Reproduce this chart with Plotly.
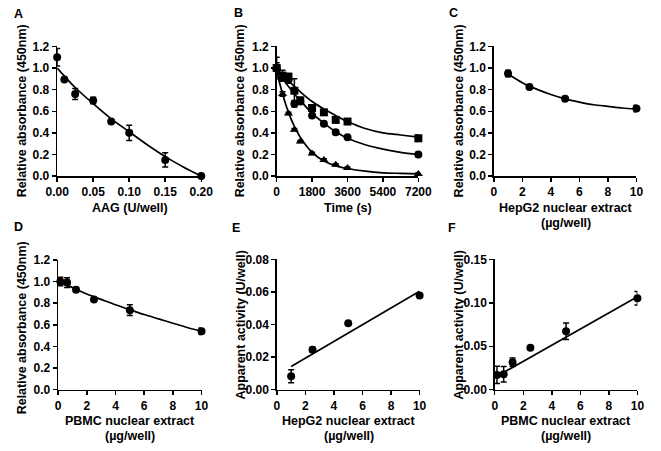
import plotly.graph_objects as go

W, H = 661, 451
FONT = "Liberation Sans, Arial, sans-serif"

# ---------------- data ----------------
# Panel A
a_x = [0, 0.01, 0.025, 0.05, 0.075, 0.1, 0.15, 0.2]
a_y = [1.10, 0.895, 0.76, 0.70, 0.505, 0.40, 0.15, 0.0]
a_err = [0.08, 0.015, 0.05, 0.03, 0.01, 0.07, 0.065, 0.0]
a_fit_x = [0, 0.025, 0.05, 0.075, 0.1, 0.125, 0.15, 0.175, 0.2]
a_fit_y = [1.0, 0.82, 0.67, 0.53, 0.41, 0.29, 0.18, 0.085, 0.0]

# Panel B
b_t = [0, 300, 600, 900, 1200, 1800, 2400, 3000, 3600, 7200]
b_sq = [1.0, 0.93, 0.92, 0.79, 0.70, 0.63, 0.59, 0.52, 0.505, 0.35]
b_sq_err = [0.10, 0.05, 0.03, 0.11, 0.03, 0.03, 0.02, 0.02, 0.02, 0.03]
b_ci = [1.0, 0.91, 0.89, 0.67, 0.69, 0.56, 0.485, 0.405, 0.36, 0.20]
b_ci_err = [0.05, 0.03, 0.03, 0.03, 0.02, 0.02, 0.02, 0.02, 0.01, 0.02]
b_tr = [1.0, 0.76, 0.58, 0.43, 0.32, 0.21, 0.15, 0.105, 0.075, 0.02]
b_tr_err = [0.03, 0.02, 0.01, 0.01, 0.01, 0.01, 0.01, 0.01, 0.01, 0.01]
b_fit_t = [0, 300, 600, 900, 1200, 1800, 2400, 3000, 3600, 4500, 5400, 6300, 7200]
b_fit_sq = [0.97, 0.93, 0.88, 0.83, 0.78, 0.69, 0.62, 0.56, 0.505, 0.44, 0.40, 0.38, 0.36]
b_fit_ci = [0.98, 0.90, 0.83, 0.76, 0.70, 0.58, 0.49, 0.41, 0.35, 0.29, 0.25, 0.22, 0.20]
b_fit_tr = [0.97, 0.76, 0.59, 0.46, 0.36, 0.22, 0.14, 0.095, 0.07, 0.045, 0.03, 0.025, 0.02]

# Panel C
c_x = [1, 2.5, 5, 10]
c_y = [0.95, 0.825, 0.715, 0.625]
c_err = [0.03, 0.01, 0.01, 0.03]
c_fit_x = [1, 2, 3, 4, 5, 6, 7, 8, 9, 10]
c_fit_y = [0.945, 0.865, 0.805, 0.755, 0.715, 0.685, 0.66, 0.645, 0.63, 0.62]

# Panel D
d_x = [0.156, 0.625, 1.25, 2.5, 5, 10]
d_y = [1.0, 0.99, 0.925, 0.835, 0.735, 0.54]
d_err = [0.04, 0.045, 0.02, 0.01, 0.05, 0.03]
d_fit_x = [0.156, 1, 2, 3, 4, 5, 6, 7, 8, 9, 10]
d_fit_y = [0.99, 0.945, 0.885, 0.835, 0.785, 0.74, 0.695, 0.655, 0.615, 0.575, 0.54]

# Panel E
e_x = [1, 2.5, 5, 10]
e_y = [0.0083, 0.0246, 0.0408, 0.0578]
e_err = [0.004, 0.0015, 0.0005, 0.0005]
e_fit_x = [1, 10]
e_fit_y = [0.0143, 0.0604]

# Panel F
f_x = [0.156, 0.625, 1.25, 2.5, 5, 10]
f_y = [0.0171, 0.0178, 0.0316, 0.0483, 0.0672, 0.1054]
f_err = [0.0098, 0.009, 0.005, 0.001, 0.0095, 0.0078]
f_fit_x = [0.156, 10]
f_fit_y = [0.0156, 0.1069]

# ---------------- helpers ----------------
def px(x):
    return x / W

def py(y):
    return 1 - y / H

fig = go.Figure()

def pts(ax, x, y, err, symbol="circle"):
    fig.add_trace(go.Scatter(
        x=x, y=y, mode="markers", xaxis="x" + ax, yaxis="y" + ax,
        marker=dict(symbol=symbol, size=8, color="black"),
        error_y=dict(type="data", array=err, color="black", thickness=1.5, width=3),
        cliponaxis=False, showlegend=False, hoverinfo="skip"))

def fit(ax, x, y):
    fig.add_trace(go.Scatter(
        x=x, y=y, mode="lines", xaxis="x" + ax, yaxis="y" + ax,
        line=dict(color="black", width=1.7, shape="spline", smoothing=0.8),
        cliponaxis=False, showlegend=False, hoverinfo="skip"))

fit("", a_fit_x, a_fit_y); pts("", a_x, a_y, a_err)
fit("2", b_fit_t, b_fit_sq); fit("2", b_fit_t, b_fit_ci); fit("2", b_fit_t, b_fit_tr)
pts("2", b_t, b_sq, b_sq_err, "square")
pts("2", b_t, b_ci, b_ci_err, "circle")
pts("2", b_t, b_tr, b_tr_err, "triangle-up")
fit("3", c_fit_x, c_fit_y); pts("3", c_x, c_y, c_err)
fit("4", d_fit_x, d_fit_y); pts("4", d_x, d_y, d_err)
fit("5", e_fit_x, e_fit_y); pts("5", e_x, e_y, e_err)
fit("6", f_fit_x, f_fit_y); pts("6", f_x, f_y, f_err)

tickfont = dict(family=FONT, size=12, color="black", weight="bold")
common = dict(showline=True, linecolor="black", linewidth=1.5, ticks="outside",
              ticklen=4, tickwidth=1.5, tickcolor="black", showgrid=False,
              zeroline=False, tickfont=tickfont, fixedrange=True)

# panel pixel boxes: (x0, x1, ytop, ybottom)
boxes = {
    "": (47, 197, 40.7, 174.5),
    "2": (275.5, 423, 40.7, 174.5),
    "3": (501.5, 650, 40.7, 174.5),
    "4": (48, 197.3, 261, 395),
    "5": (275.7, 424.3, 260.5, 395),
    "6": (502.5, 651, 260.5, 395),
}
xspec = {
    "": dict(range=[0, 0.2], tickvals=[0, 0.05, 0.1, 0.15, 0.2], tickformat=".2f"),
    "2": dict(range=[0, 7200], tickvals=[0, 1800, 3600, 5400, 7200], tickformat="d"),
    "3": dict(range=[0, 10], tickvals=[0, 2, 4, 6, 8, 10]),
    "4": dict(range=[0, 10], tickvals=[0, 2, 4, 6, 8, 10]),
    "5": dict(range=[0, 10], tickvals=[0, 2, 4, 6, 8, 10]),
    "6": dict(range=[0, 10], tickvals=[0, 2, 4, 6, 8, 10]),
}
yspec = {
    "": dict(range=[0, 1.2], tickvals=[0, 0.2, 0.4, 0.6, 0.8, 1.0, 1.2], tickformat=".1f"),
    "2": dict(range=[0, 1.2], tickvals=[0, 0.2, 0.4, 0.6, 0.8, 1.0, 1.2], tickformat=".1f"),
    "3": dict(range=[0, 1.2], tickvals=[0, 0.2, 0.4, 0.6, 0.8, 1.0, 1.2], tickformat=".1f"),
    "4": dict(range=[0, 1.2], tickvals=[0, 0.2, 0.4, 0.6, 0.8, 1.0, 1.2], tickformat=".1f"),
    "5": dict(range=[0, 0.08], tickvals=[0, 0.02, 0.04, 0.06, 0.08], tickformat=".2f"),
    "6": dict(range=[0, 0.15], tickvals=[0, 0.05, 0.10, 0.15], tickformat=".2f"),
}

layout = dict(width=W, height=H, margin=dict(l=0, r=0, t=0, b=0),
              paper_bgcolor="white", plot_bgcolor="white", showlegend=False,
              hovermode=False)
for k, (x0, x1, yt, yb) in boxes.items():
    layout["xaxis" + k] = dict(domain=[px(x0), px(x1)], anchor="y" + k, **xspec[k], **common)
    layout["yaxis" + k] = dict(domain=[py(yb), py(yt)], anchor="x" + k, **yspec[k], **common)
fig.update_layout(**layout)

def text(x, y, s, size=12.5, angle=0):
    fig.add_annotation(x=px(x), y=py(y), xref="paper", yref="paper", text=s,
                       showarrow=False, textangle=angle, xanchor="center", yanchor="middle",
                       font=dict(family=FONT, size=size, color="black", weight="bold"))

# panel letters
for s, x, y in [("A", 7, 7), ("B", 236, 6), ("C", 460, 6),
                ("D", 7, 227), ("E", 233, 228), ("F", 458, 228)]:
    text(x, y, s, 12.5)

# y titles
text(10, 107, "Relative absorbance (450nm)", 12.5, -90)
text(237, 107, "Relative absorbance (450nm)", 12.5, -90)
text(465, 107, "Relative absorbance (450nm)", 12.5, -90)
text(10, 331, "Relative absorbance (450nm)", 12.5, -90)
text(238, 328, "Apparent activity (U/well)", 12.5, -90)
text(465, 328, "Apparent activity (U/well)", 12.5, -90)

# x titles
text(123, 207, "AAG (U/well)")
text(350, 207, "Time (s)")
text(577, 207, "HepG2 nuclear extract")
text(577, 222.5, "(µg/well)")
text(123, 427.5, "PBMC nuclear extract")
text(123, 443, "(µg/well)")
text(351, 427.5, "HepG2 nuclear extract")
text(351, 443, "(µg/well)")
text(577, 427.5, "PBMC nuclear extract")
text(577, 443, "(µg/well)")

fig.write_html("out.html", config={"displayModeBar": False, "staticPlot": True},
               post_script="document.body.style.margin='0';document.body.style.overflow='hidden';")
